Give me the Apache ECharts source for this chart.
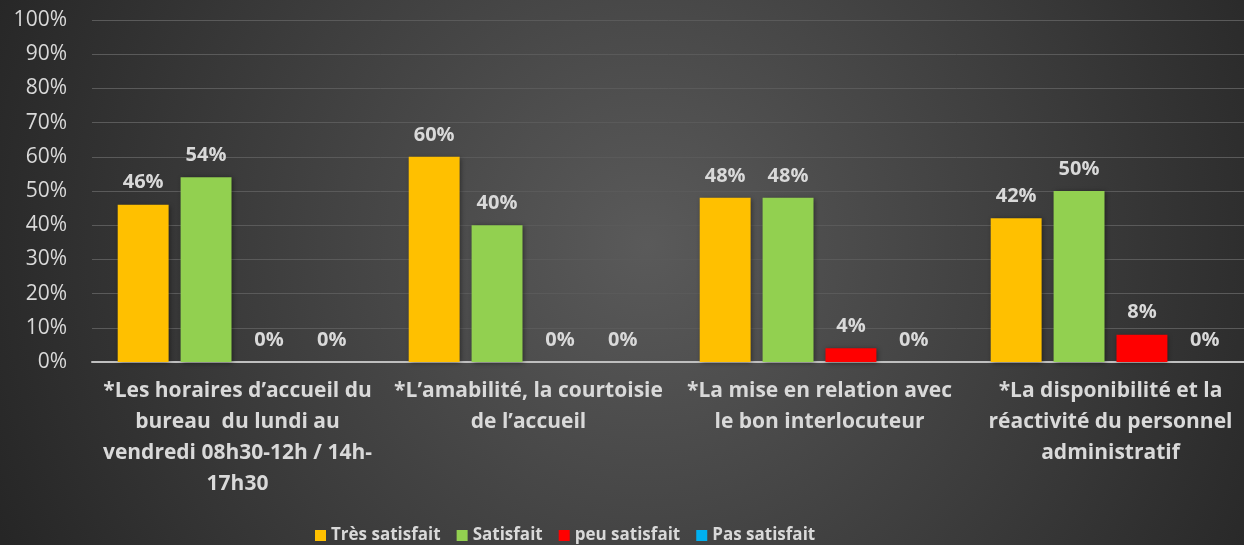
<!DOCTYPE html>
<html>
<head>
<meta charset="utf-8">
<script src="https://cdn.jsdelivr.net/npm/echarts@6/dist/echarts.min.js"></script>
<style>
html,body{margin:0;padding:0;}
#div_chart{width:1244px;height:545px;}
</style>
</head>
<body>
<div id="div_chart"></div>
<script>
// catégories (axe x)
var categories = [
	'*Les horaires d\u2019accueil du\nbureau  du lundi au\nvendredi 08h30-12h / 14h-\n17h30',
	'*L\u2019amabilité, la courtoisie\nde l\u2019accueil',
	'*La mise en relation avec\nle bon interlocuteur',
	'*La disponibilité et la\nréactivité du personnel\nadministratif'
];
var seriesNames = ['Très satisfait', 'Satisfait', 'peu satisfait', 'Pas satisfait'];
var tresSatisfait = [46, 60, 48, 42];
var satisfait = [54, 40, 48, 50];
var peuSatisfait = [0, 0, 4, 8];
var pasSatisfait = [0, 0, 0, 0];
var colors = ['#FFC000', '#92D050', '#FF0000', '#00B0F0'];

var textColor = '#d9d9d9';
var fontWide = '"Open Sans", sans-serif';

function makeSerie(name, data, color){
	return {
		name: name,
		type: 'bar',
		barWidth: '17.5%',
		barGap: '23.5%',
		data: data,
		itemStyle: {
			color: color,
			shadowColor: 'rgba(0,0,0,0.45)',
			shadowBlur: 5,
			shadowOffsetX: 1,
			shadowOffsetY: 1
		},
		label: {
			show: true,
			position: 'top',
			distance: 12,
			formatter: '{c}%',
			color: textColor,
			fontWeight: 'bold',
			fontSize: 20,
			fontFamily: fontWide
		}
	};
}

var option = {
	backgroundColor: {
		type: 'radial',
		x: 0.52, y: 0.45, r: 1.3,
		colorStops: [
			{offset: 0, color: '#5a5a5a'},
			{offset: 1, color: '#262626'}
		]
	},
	color: colors,
	legend: {
		top: 522,
		left: 310,
		itemWidth: 11,
		itemHeight: 11,
		itemGap: 16,
		icon: 'rect',
		textStyle: {color: textColor, fontSize: 17, fontWeight: 'bold', fontFamily: fontWide},
		data: seriesNames
	},
	grid: {
		left: 92,
		width: 1164,
		top: 20,
		bottom: 183,
		containLabel: false,
		outerBoundsMode: 'none'
	},
	xAxis: [{
		type: 'category',
		data: categories,
		axisTick: {show: false},
		axisLine: {lineStyle: {color: '#bfbfbf', width: 2}},
		axisLabel: {
			interval: 0,
			margin: 14,
			color: textColor,
			fontSize: 21,
			fontWeight: 'bold',
			lineHeight: 31,
			fontFamily: fontWide
		}
	}],
	yAxis: [{
		type: 'value',
		min: 0,
		max: 100,
		interval: 10,
		axisLine: {show: false},
		axisTick: {show: false},
		splitLine: {lineStyle: {color: '#5a5a5a', width: 1}},
		axisLabel: {
			formatter: '{value}%',
			margin: 25,
			color: textColor,
			fontSize: 21,
			fontFamily: fontWide
		}
	}],
	series: [
		makeSerie(seriesNames[0], tresSatisfait, colors[0]),
		makeSerie(seriesNames[1], satisfait, colors[1]),
		makeSerie(seriesNames[2], peuSatisfait, colors[2]),
		makeSerie(seriesNames[3], pasSatisfait, colors[3])
	]
};

var myChart = echarts.init(document.getElementById('div_chart'));
myChart.setOption(option);
</script>
</body>
</html>
